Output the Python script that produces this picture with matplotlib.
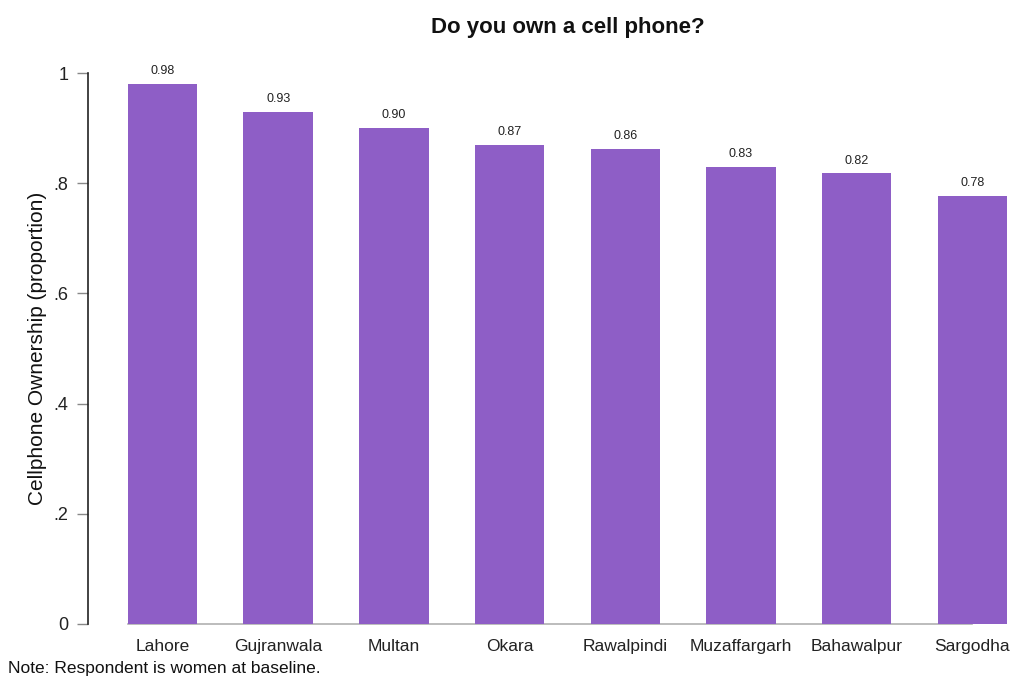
import matplotlib

matplotlib.use("Agg")
import matplotlib.pyplot as plt

plt.rcParams["font.family"] = ["Liberation Sans", "DejaVu Sans"]

districts = ["Lahore", "Gujranwala", "Multan", "Okara", "Rawalpindi",
             "Muzaffargarh", "Bahawalpur", "Sargodha"]
ownership = [0.98, 0.93, 0.90, 0.87, 0.862, 0.83, 0.818, 0.777]
value_labels = ["0.98", "0.93", "0.90", "0.87", "0.86", "0.83", "0.82", "0.78"]
yticks = [0, 0.2, 0.4, 0.6, 0.8, 1.0]
ytick_labels = ["0", ".2", ".4", ".6", ".8", "1"]

BAR = "#8e5ec6"

fig = plt.figure(figsize=(10.11, 6.83), dpi=100, facecolor="white")
ax = fig.add_axes([88 / 1011, 59 / 683, 1 - 88 / 1011, (624 - 73) / 683])

x = range(len(districts))
bars = ax.bar(x, ownership, width=0.6, color=BAR, zorder=2)
for b, lab in zip(bars, value_labels):
    ax.text(b.get_x() + b.get_width() / 2, b.get_height() + 0.012, lab,
            ha="center", va="bottom", fontsize=9, color="#222222")

ax.plot([-0.3, 7.0], [0, 0], color="#b0b0b0", lw=1.2, zorder=1, clip_on=False)

ax.set_xlim(-0.644, 7.334)
ax.set_ylim(0, 1)
ax.set_xticks(list(x))
ax.set_xticklabels(districts, fontsize=12.5, color="#222222")
ax.tick_params(axis="x", length=0, pad=11)
ax.set_yticks(yticks)
ax.set_yticklabels(ytick_labels, fontsize=13, color="#222222")
ax.tick_params(axis="y", length=8, width=1, color="#888888", pad=6)

for side in ("top", "right", "bottom"):
    ax.spines[side].set_visible(False)
ax.spines["left"].set_color("#222222")
ax.spines["left"].set_linewidth(1.2)

ax.set_ylabel("Cellphone Ownership (proportion)", fontsize=15, color="#111111",
              labelpad=5)
fig.text(568 / 1011, 1 - 28 / 683, "Do you own a cell phone?", ha="center",
         va="center", fontsize=16, fontweight="bold", color="#111111")
fig.text(8 / 1011, 1 - 668 / 683, "Note: Respondent is women at baseline.",
         ha="left", va="center", fontsize=12.5, color="#111111")

fig.savefig("out.png", dpi=100, facecolor="white")
